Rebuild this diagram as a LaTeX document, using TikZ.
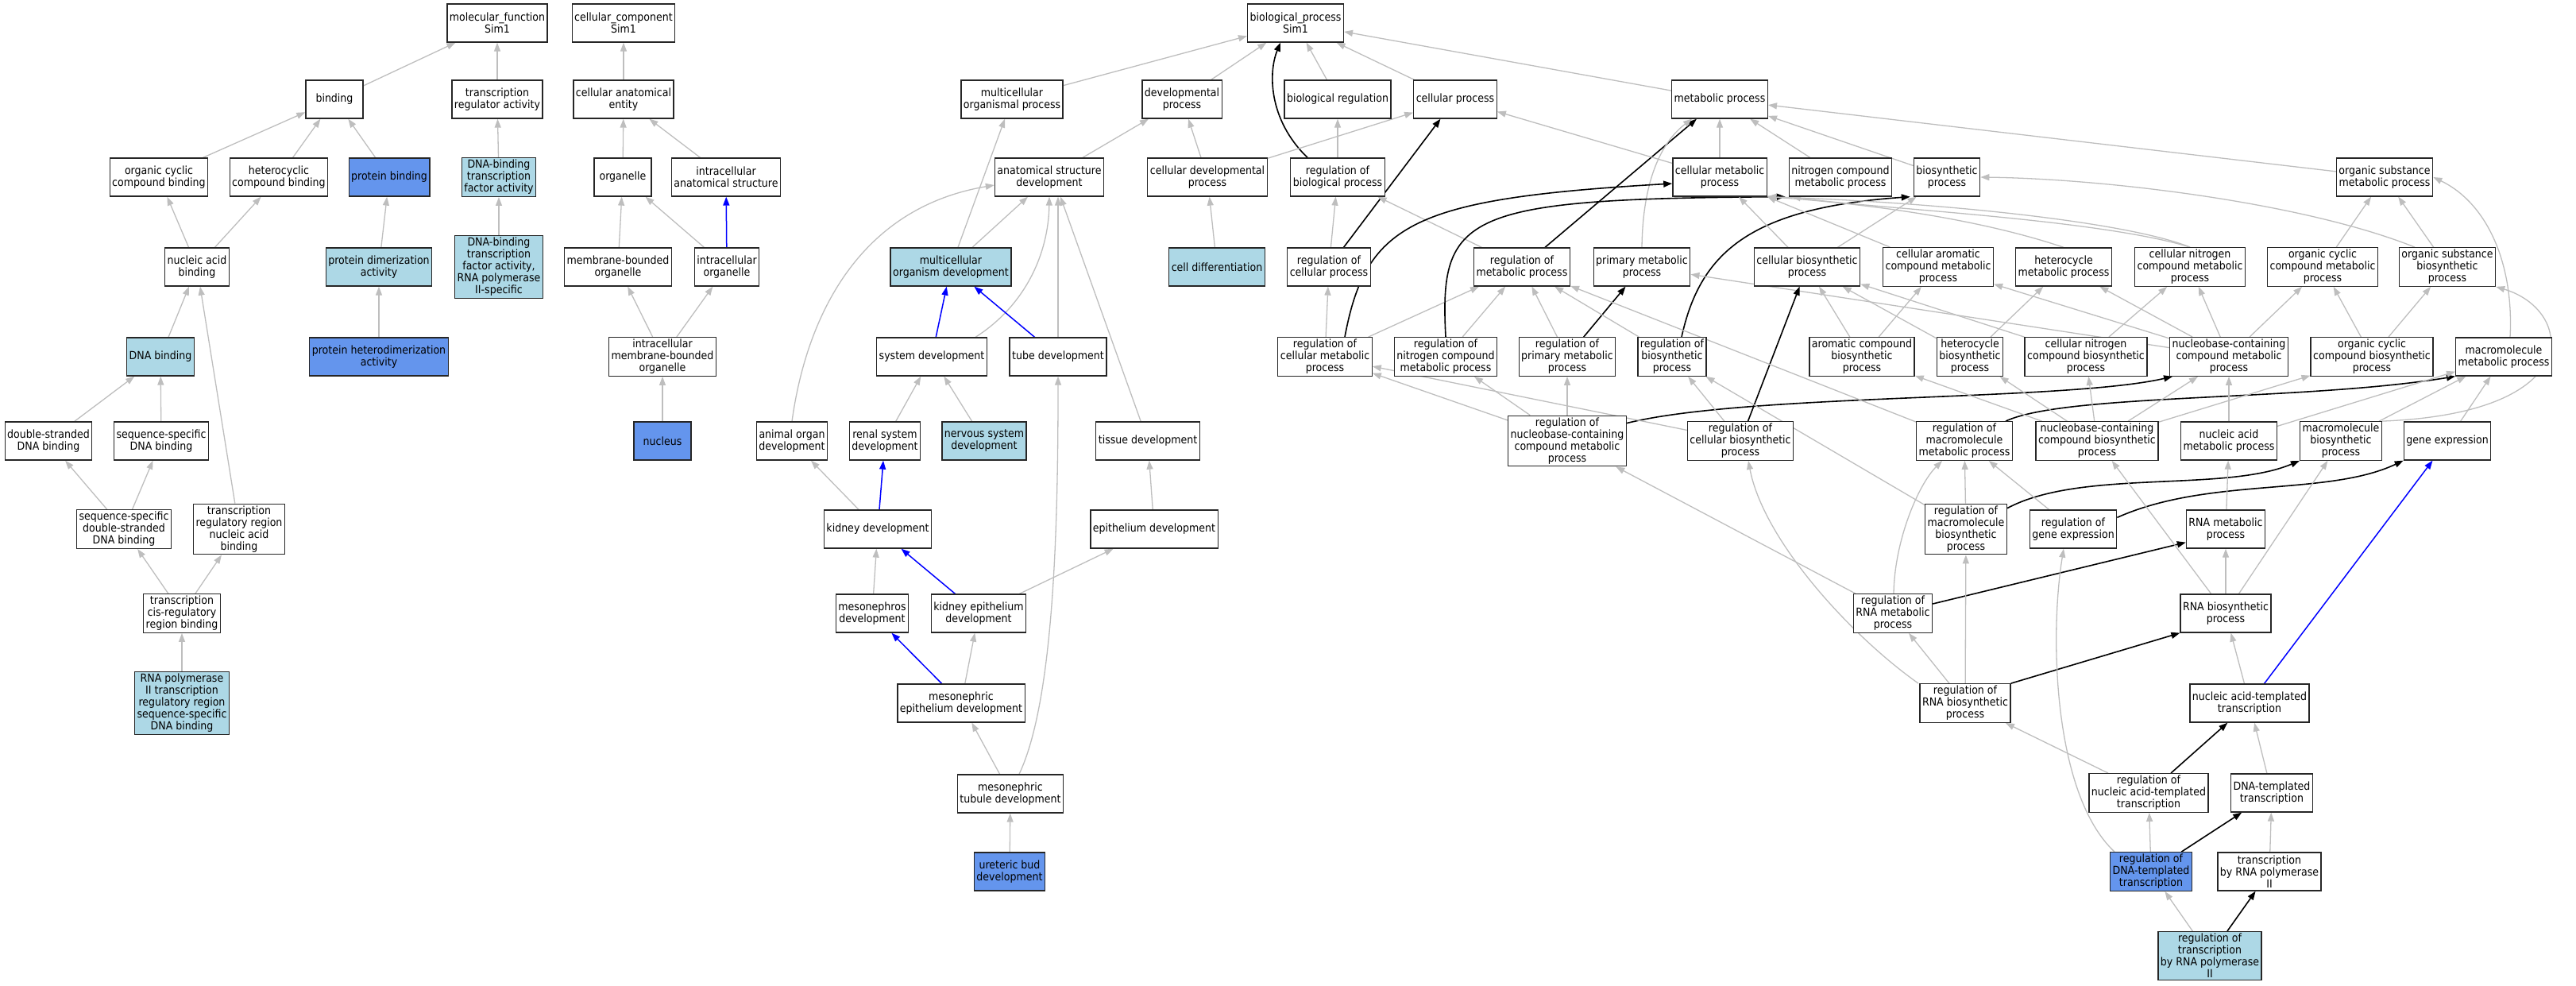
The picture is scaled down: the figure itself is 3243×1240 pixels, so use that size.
\documentclass[tikz,border=0pt]{standalone}
\usepackage{fontspec}
\IfFontExistsTF{DejaVu Sans Condensed}{\setmainfont{DejaVu Sans Condensed}}{\setmainfont{DejaVu Sans}[FakeStretch=0.9]}
\usepackage{xcolor}
\usepackage{tikz}
\usetikzlibrary{arrows.meta,backgrounds}
\definecolor{cornflower}{HTML}{6495ED}
\definecolor{lightblu}{HTML}{ADD8E6}
\definecolor{edgegray}{HTML}{BEBEBE}

\begin{document}
\begin{tikzpicture}[x=1pt,y=-1pt,
    term/.style={draw=black!85,line width=1.3pt,fill=white,align=center,
      inner xsep=3pt,inner ysep=2.5pt,minimum width=72pt,minimum height=48pt,
      font=\fontsize{14}{15}\selectfont},
    hit/.style={term,fill=cornflower},
    near/.style={term,fill=lightblu},
    isa/.style={draw=edgegray,line width=1.3pt,-{Triangle[length=11pt,width=8pt]}},
    regs/.style={draw=black,line width=1.6pt,-{Triangle[length=11pt,width=8pt]}},
    partof/.style={draw=blue,line width=1.5pt,-{Triangle[length=11pt,width=8pt]}}]
\useasboundingbox (0,0) rectangle (3243,1240);

\node[term] (mf) at (626,29) {molecular\_function\\Sim1};
\node[term] (cc) at (785,29) {cellular\_component\\Sim1};
\node[term] (bp) at (1631,29) {biological\_process\\Sim1};

\node[term] (bind) at (421,125) {binding};
\node[term] (trreg) at (626,125) {transcription\\regulator activity};
\node[term] (cae) at (785,125) {cellular anatomical\\entity};
\node[term] (mop) at (1274,125) {multicellular\\organismal process};
\node[term] (dp) at (1488,125) {developmental\\process};
\node[term] (breg) at (1684,125) {biological regulation};
\node[term] (cp) at (1832,125) {cellular process};
\node[term] (mp) at (2165,125) {metabolic process};

\node[term] (occb) at (200,223) {organic cyclic\\compound binding};
\node[term] (hccb) at (351,223) {heterocyclic\\compound binding};
\node[hit] (protb) at (490,223) {protein binding};
\node[near] (dbtf) at (628,223) {DNA-binding\\transcription\\factor activity};
\node[term] (org) at (784,223) {organelle};
\node[term] (ias) at (914,223) {intracellular\\anatomical structure};
\node[term] (asd) at (1321,223) {anatomical structure\\development};
\node[term] (cdp) at (1520,223) {cellular developmental\\process};
\node[term] (rbp) at (1684,223) {regulation of\\biological process};
\node[term] (cmp) at (2165,223) {cellular metabolic\\process};
\node[term] (ncmp) at (2317,223) {nitrogen compound\\metabolic process};
\node[term] (bsp) at (2451,223) {biosynthetic\\process};
\node[term] (osmp) at (3002,223) {organic substance\\metabolic process};

\node[term] (nab) at (248,336) {nucleic acid\\binding};
\node[near] (pdim) at (477,336) {protein dimerization\\activity};
\node[near] (dbtf2) at (628,336) {DNA-binding\\transcription\\factor activity,\\RNA polymerase\\II-specific};
\node[term] (mbo) at (778,336) {membrane-bounded\\organelle};
\node[term] (io) at (915,336) {intracellular\\organelle};
\node[near] (mod) at (1197,336) {multicellular\\organism development};
\node[near] (celldiff) at (1532,336) {cell differentiation};
\node[term] (rcp) at (1673,336) {regulation of\\cellular process};
\node[term] (rmp) at (1916,336) {regulation of\\metabolic process};
\node[term] (pmp) at (2067,336) {primary metabolic\\process};
\node[term] (cbp) at (2275,336) {cellular biosynthetic\\process};
\node[term] (camp) at (2440,336) {cellular aromatic\\compound metabolic\\process};
\node[term] (hmp) at (2598,336) {heterocycle\\metabolic process};
\node[term] (cncmp) at (2757,336) {cellular nitrogen\\compound metabolic\\process};
\node[term] (occmp) at (2924,336) {organic cyclic\\compound metabolic\\process};
\node[term] (osbp) at (3081,336) {organic substance\\biosynthetic\\process};

\node[near] (dnab) at (202,449) {DNA binding};
\node[hit] (phet) at (477,449) {protein heterodimerization\\activity};
\node[term] (imbo) at (834,449) {intracellular\\membrane-bounded\\organelle};
\node[term] (sysd) at (1173,449) {system development};
\node[term] (tubed) at (1332,449) {tube development};
\node[term] (rcmp) at (1668,449) {regulation of\\cellular metabolic\\process};
\node[term] (rncmp) at (1820,449) {regulation of\\nitrogen compound\\metabolic process};
\node[term] (rpmp) at (1973,449) {regulation of\\primary metabolic\\process};
\node[term] (rbsp) at (2105,449) {regulation of\\biosynthetic\\process};
\node[term] (acbp) at (2344,449) {aromatic compound\\biosynthetic\\process};
\node[term] (hbp) at (2480,449) {heterocycle\\biosynthetic\\process};
\node[term] (cncbp) at (2626,449) {cellular nitrogen\\compound biosynthetic\\process};
\node[term] (nbcmp) at (2806,449) {nucleobase-containing\\compound metabolic\\process};
\node[term] (occbp) at (2986,449) {organic cyclic\\compound biosynthetic\\process};
\node[term] (macmp) at (3152,449) {macromolecule\\metabolic process};

\node[term] (dsdb) at (61,555) {double-stranded\\DNA binding};
\node[term] (ssdb) at (203,555) {sequence-specific\\DNA binding};
\node[hit] (nuc) at (834,555) {nucleus};
\node[term] (aod) at (997,555) {animal organ\\development};
\node[term] (rsd) at (1114,555) {renal system\\development};
\node[near] (nsd) at (1239,555) {nervous system\\development};
\node[term] (tisd) at (1445,555) {tissue development};
\node[term] (rnbmp) at (1973,555) {regulation of\\nucleobase-containing\\compound metabolic\\process};
\node[term] (rcbp) at (2191,555) {regulation of\\cellular biosynthetic\\process};
\node[term] (rmacmp) at (2473,555) {regulation of\\macromolecule\\metabolic process};
\node[term] (nbcbp) at (2640,555) {nucleobase-containing\\compound biosynthetic\\process};
\node[term] (namp) at (2806,555) {nucleic acid\\metabolic process};
\node[term] (macbp) at (2947,555) {macromolecule\\biosynthetic\\process};
\node[term] (gexp) at (3081,555) {gene expression};

\node[term] (ssds) at (156,666) {sequence-specific\\double-stranded\\DNA binding};
\node[term] (trnab) at (301,666) {transcription\\regulatory region\\nucleic acid\\binding};
\node[term] (kidd) at (1105,666) {kidney development};
\node[term] (epid) at (1453,666) {epithelium development};
\node[term] (rmacbp) at (2475,666) {regulation of\\macromolecule\\biosynthetic\\process};
\node[term] (rgexp) at (2610,666) {regulation of\\gene expression};
\node[term] (rnamp) at (2802,666) {RNA metabolic\\process};

\node[term] (cisreg) at (229,772) {transcription\\cis-regulatory\\region binding};
\node[term] (mesod) at (1098,772) {mesonephros\\development};
\node[term] (kepid) at (1232,772) {kidney epithelium\\development};
\node[term] (rrnamp) at (2383,772) {regulation of\\RNA metabolic\\process};
\node[term] (rnabp) at (2802,772) {RNA biosynthetic\\process};

\node[near] (rp2b) at (229,885) {RNA polymerase\\II transcription\\regulatory region\\sequence-specific\\DNA binding};
\node[term] (mesoepi) at (1210,885) {mesonephric\\epithelium development};
\node[term] (rrnabp) at (2474,885) {regulation of\\RNA biosynthetic\\process};
\node[term] (natt) at (2832,885) {nucleic acid-templated\\transcription};

\node[term] (mesotub) at (1272,999) {mesonephric\\tubule development};
\node[term] (rnatt) at (2705,998) {regulation of\\nucleic acid-templated\\transcription};
\node[term] (dtt) at (2860,998) {DNA-templated\\transcription};

\node[hit] (ureter) at (1271,1097) {ureteric bud\\development};
\node[hit] (rdtt) at (2708,1097) {regulation of\\DNA-templated\\transcription};
\node[term] (trp2) at (2857,1097) {transcription\\by RNA polymerase\\II};

\node[near] (rtrp2) at (2782,1203) {regulation of\\transcription\\by RNA polymerase\\II};

\begin{scope}[on background layer]
\draw[isa] (bind) -- (mf);
\draw[isa] (trreg) -- (mf);
\draw[isa] (occb) -- (bind);
\draw[isa] (hccb) -- (bind);
\draw[isa] (protb) -- (bind);
\draw[isa] (dbtf) -- (trreg);
\draw[isa] (nab) -- (occb);
\draw[isa] (nab) -- (hccb);
\draw[isa] (pdim) -- (protb);
\draw[isa] (dbtf2) -- (dbtf);
\draw[isa] (dnab) -- (nab);
\draw[isa] (trnab) -- (nab);
\draw[isa] (phet) -- (pdim);
\draw[isa] (dsdb) -- (dnab);
\draw[isa] (ssdb) -- (dnab);
\draw[isa] (ssds) -- (dsdb);
\draw[isa] (ssds) -- (ssdb);
\draw[isa] (cisreg) -- (ssds);
\draw[isa] (cisreg) -- (trnab);
\draw[isa] (rp2b) -- (cisreg);

\draw[isa] (cae) -- (cc);
\draw[isa] (org) -- (cae);
\draw[isa] (ias) -- (cae);
\draw[isa] (mbo) -- (org);
\draw[isa] (io) -- (org);
\draw[partof] (io) -- (ias);
\draw[isa] (imbo) -- (mbo);
\draw[isa] (imbo) -- (io);
\draw[isa] (nuc) -- (imbo);

\draw[isa] (mop) -- (bp);
\draw[isa] (dp) -- (bp);
\draw[isa] (breg) -- (bp);
\draw[isa] (cp) -- (bp);
\draw[isa] (mp) -- (bp);
\draw[regs] ([xshift=-38pt]rbp.north) .. controls (1596,150) and (1597,90) .. ([xshift=-19pt]bp.south);
\draw[isa] (asd) -- (dp);
\draw[isa] (cdp) -- (dp);
\draw[isa] (cdp) -- (cp);
\draw[isa] (rbp) -- (breg);
\draw[isa] (mod) -- (mop);
\draw[isa] (mod) -- (asd);
\draw[isa] (celldiff) -- (cdp);
\draw[isa] (aod.north) .. controls (1015,400) and (1080,262) .. ([yshift=-10pt]asd.west);
\draw[partof] (sysd) -- (mod);
\draw[isa] ([xshift=55pt]sysd.north) .. controls (1290,385) and (1320,320) .. (asd.south);
\draw[partof] (tubed) -- (mod);
\draw[isa] (tubed.north) -- (tubed.north |- asd.south);
\draw[isa] (tisd) -- ([xshift=14pt]asd.south);
\draw[isa] (rsd) -- (sysd);
\draw[isa] (nsd) -- (sysd);
\draw[isa] (kidd) -- (aod);
\draw[partof] (kidd) -- (rsd);
\draw[isa] (epid) -- (tisd);
\draw[isa] (mesod) -- (kidd);
\draw[partof] (kepid) -- (kidd);
\draw[isa] (kepid) -- (epid);
\draw[partof] (mesoepi) -- (mesod);
\draw[isa] (mesoepi) -- (kepid);
\draw[isa] (mesotub) -- (mesoepi);
\draw[isa] ([xshift=11pt]mesotub.north) .. controls (1328,880) and (1332,650) .. (tubed.south);
\draw[isa] (ureter) -- (mesotub);

\draw[isa] (rcp) -- (rbp);
\draw[regs] (rcp) -- (cp);
\draw[isa] (rmp) -- (rbp);
\draw[regs] (rmp) -- (mp);
\draw[isa] (pmp.north) .. controls (2068,230) and (2090,180) .. ([xshift=-35pt]mp.south);
\draw[isa] (cmp) -- (mp);
\draw[isa] (cmp) -- (cp);
\draw[isa] (ncmp) -- (mp);
\draw[isa] (bsp) -- (mp);
\draw[isa] (osmp) -- (mp);
\draw[isa] (rcmp) -- (rcp);
\draw[isa] (rcmp) -- (rmp);
\draw[regs] ([xshift=25pt]rcmp.north) .. controls (1720,280) and (1780,250) .. ([yshift=-8pt]cmp.west);
\draw[isa] (rncmp) -- (rmp);
\draw[regs] (rncmp.north) .. controls (1812,270) and (1840,250) .. ([xshift=-4pt]ncmp.south west);
\draw[isa] (rpmp) -- (rmp);
\draw[regs] (rpmp) -- (pmp);
\draw[isa] (rbsp) -- (rmp);
\draw[regs] ([xshift=12pt]rbsp.north) .. controls (2140,320) and (2200,262) .. ([xshift=-4pt]bsp.south west);
\draw[isa] (cbp) -- (cmp);
\draw[isa] (cbp) -- (bsp);
\draw[isa] (camp) -- (cmp.south east);
\draw[isa] (hmp.north) .. controls (2520,285) and (2400,260) .. (cmp.south east);
\draw[isa] (cncmp.north) .. controls (2680,280) and (2450,255) .. (cmp.south east);
\draw[isa] (cncmp.north) .. controls (2640,275) and (2350,262) .. ([xshift=4pt]ncmp.south west);
\draw[isa] (occmp) -- (osmp);
\draw[isa] (osbp) -- (osmp);
\draw[isa] ([xshift=-41pt]osbp.north) .. controls (2900,255) and (2650,225) .. (bsp.east);
\draw[isa] (acbp) -- (camp);
\draw[isa] (acbp) -- (cbp);
\draw[isa] (hbp) -- (hmp);
\draw[isa] (hbp) -- (cbp);
\draw[isa] (cncbp) -- (cncmp);
\draw[isa] (cncbp) -- (cbp);
\draw[isa] (nbcmp) -- (camp);
\draw[isa] (nbcmp) -- (hmp);
\draw[isa] (nbcmp) -- (cncmp);
\draw[isa] (nbcmp) -- (occmp);
\draw[isa] (nbcmp) -- (pmp);
\draw[isa] (occbp) -- (occmp);
\draw[isa] (occbp) -- (osbp);
\draw[isa] ([xshift=8pt]macmp.north) .. controls (3165,330) and (3130,255) .. (osmp.east);

\draw[isa] (rnbmp) -- (rcmp);
\draw[isa] (rnbmp) -- (rncmp);
\draw[isa] (rnbmp) -- (rpmp);
\draw[regs] ([yshift=-10pt]rnbmp.north east) .. controls (2200,495) and (2600,505) .. ([xshift=4pt]nbcmp.south west);
\draw[isa] (rcbp) -- (rcmp);
\draw[isa] (rcbp) -- (rbsp);
\draw[regs] (rcbp) -- (cbp);
\draw[isa] (rmacmp) -- (rmp);
\draw[regs] ([xshift=52pt]rmacmp.north) .. controls (2600,495) and (2900,505) .. (macmp.south west);
\draw[isa] (nbcbp) -- (acbp);
\draw[isa] (nbcbp) -- (hbp);
\draw[isa] (nbcbp) -- (cncbp);
\draw[isa] (nbcbp) -- (nbcmp);
\draw[isa] (nbcbp) -- (occbp);
\draw[isa] (namp) -- (nbcmp);
\draw[isa] (namp) -- (macmp);
\draw[isa] (macbp) -- (macmp);
\draw[isa] (macbp.north east) .. controls (3260,520) and (3240,390) .. (osbp.south east);
\draw[isa] (gexp) -- (macmp);

\draw[isa] (rmacbp) -- (rmacmp);
\draw[isa] (rmacbp) -- (rbsp);
\draw[regs] ([yshift=-6pt]rmacbp.north east) .. controls (2620,590) and (2800,620) .. (macbp.south west);
\draw[isa] (rgexp) -- (rmacmp);
\draw[regs] ([yshift=-10pt]rgexp.north east) .. controls (2780,600) and (2930,625) .. (gexp.south west);
\draw[isa] (rnamp) -- (namp);

\draw[isa] ([xshift=1pt]rrnamp.north) .. controls (2385,680) and (2415,610) .. ([xshift=-28pt]rmacmp.south);
\draw[isa] (rrnamp) -- (rnbmp);
\draw[regs] ([yshift=12pt]rrnamp.east) -- ([yshift=8pt]rnamp.south west);
\draw[isa] (rnabp) -- (rnamp);
\draw[isa] (rnabp) -- (nbcbp);
\draw[isa] (rnabp) -- (macbp);

\draw[isa] (rrnabp) -- (rrnamp);
\draw[isa] (rrnabp) -- (rmacbp);
\draw[isa] ([xshift=-59pt]rrnabp.north) .. controls (2330,800) and (2220,680) .. ([xshift=10pt]rcbp.south);
\draw[regs] (rrnabp.north east) -- (rnabp.south west);
\draw[isa] (natt) -- (rnabp);
\draw[partof] (natt) -- (gexp);

\draw[isa] (rnatt) -- (rrnabp);
\draw[regs] (rnatt) -- (natt);
\draw[isa] (dtt) -- (natt);
\draw[isa] (rdtt) -- (rnatt);
\draw[isa] ([xshift=-46pt]rdtt.north) .. controls (2585,1000) and (2580,800) .. ([xshift=-12pt]rgexp.south);
\draw[regs] (rdtt) -- (dtt);
\draw[isa] (trp2) -- (dtt);
\draw[isa] (rtrp2) -- (rdtt);
\draw[regs] (rtrp2) -- (trp2);
\end{scope}
\end{tikzpicture}
\end{document}
